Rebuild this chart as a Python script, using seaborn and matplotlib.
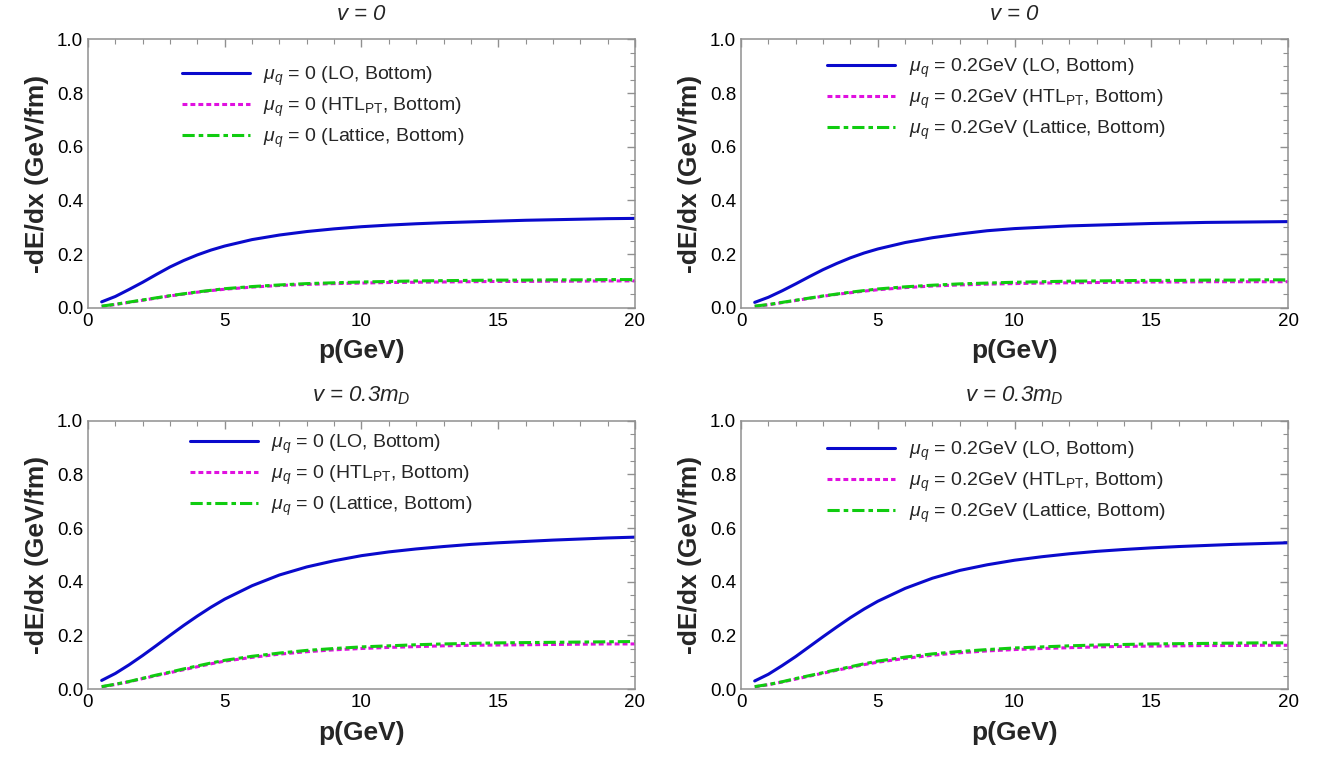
import numpy as np
import pandas as pd
import matplotlib
matplotlib.use("Agg")
import matplotlib.pyplot as plt
from matplotlib.ticker import MultipleLocator, FormatStrFormatter
import seaborn as sns

# momentum grid (GeV)
p = [0.5, 1, 1.5, 2, 2.5, 3, 3.5, 4, 4.5, 5, 6, 7, 8, 9, 10,
     11, 12, 13, 14, 15, 16, 17, 18, 19, 20]

# v = 0, mu_q = 0
lo_v0_mu0 = [0.022, 0.042, 0.068, 0.095, 0.124, 0.152, 0.176, 0.197, 0.215, 0.230,
             0.254, 0.271, 0.284, 0.294, 0.302, 0.308, 0.313, 0.317, 0.320, 0.323,
             0.326, 0.328, 0.330, 0.332, 0.333]
htl_v0_mu0 = [0.005, 0.012, 0.020, 0.028, 0.036, 0.044, 0.051, 0.058, 0.064, 0.069,
              0.077, 0.083, 0.087, 0.090, 0.092, 0.094, 0.095, 0.096, 0.097, 0.098,
              0.098, 0.099, 0.099, 0.100, 0.100]
lat_v0_mu0 = [0.006, 0.013, 0.021, 0.029, 0.037, 0.045, 0.052, 0.059, 0.065, 0.071,
              0.079, 0.085, 0.090, 0.093, 0.096, 0.098, 0.100, 0.101, 0.102, 0.103,
              0.103, 0.104, 0.104, 0.105, 0.105]

# v = 0, mu_q = 0.2 GeV
lo_v0_mu2 = [0.020, 0.039, 0.063, 0.089, 0.116, 0.142, 0.165, 0.186, 0.204, 0.219,
             0.243, 0.261, 0.275, 0.287, 0.295, 0.300, 0.305, 0.308, 0.311, 0.314,
             0.316, 0.318, 0.319, 0.320, 0.321]
htl_v0_mu2 = [0.005, 0.011, 0.019, 0.027, 0.035, 0.043, 0.050, 0.056, 0.062, 0.067,
              0.075, 0.081, 0.085, 0.088, 0.090, 0.092, 0.093, 0.094, 0.095, 0.096,
              0.096, 0.097, 0.097, 0.097, 0.097]
lat_v0_mu2 = [0.006, 0.012, 0.020, 0.028, 0.036, 0.044, 0.051, 0.058, 0.064, 0.070,
              0.078, 0.084, 0.089, 0.092, 0.095, 0.097, 0.099, 0.100, 0.101, 0.102,
              0.102, 0.103, 0.103, 0.104, 0.104]

# v = 0.3 m_D, mu_q = 0
lo_v3_mu0 = [0.032, 0.058, 0.090, 0.125, 0.162, 0.200, 0.237, 0.272, 0.305, 0.335,
             0.385, 0.425, 0.455, 0.478, 0.497, 0.511, 0.522, 0.531, 0.539, 0.545,
             0.550, 0.555, 0.559, 0.563, 0.566]
htl_v3_mu0 = [0.008, 0.017, 0.027, 0.039, 0.050, 0.061, 0.072, 0.083, 0.094, 0.104,
              0.118, 0.130, 0.139, 0.146, 0.151, 0.155, 0.158, 0.161, 0.163, 0.164,
              0.165, 0.166, 0.167, 0.168, 0.168]
lat_v3_mu0 = [0.009, 0.018, 0.028, 0.040, 0.052, 0.063, 0.075, 0.086, 0.097, 0.107,
              0.122, 0.134, 0.144, 0.151, 0.157, 0.161, 0.165, 0.168, 0.170, 0.172,
              0.173, 0.174, 0.175, 0.176, 0.177]

# v = 0.3 m_D, mu_q = 0.2 GeV
lo_v3_mu2 = [0.030, 0.055, 0.087, 0.121, 0.158, 0.195, 0.231, 0.266, 0.298, 0.327,
             0.375, 0.413, 0.442, 0.463, 0.480, 0.493, 0.504, 0.513, 0.520, 0.526,
             0.531, 0.535, 0.539, 0.542, 0.545]
htl_v3_mu2 = [0.008, 0.016, 0.026, 0.037, 0.048, 0.059, 0.070, 0.080, 0.091, 0.100,
              0.114, 0.126, 0.135, 0.142, 0.147, 0.151, 0.154, 0.157, 0.159, 0.160,
              0.161, 0.162, 0.162, 0.163, 0.163]
lat_v3_mu2 = [0.009, 0.017, 0.027, 0.039, 0.050, 0.061, 0.072, 0.083, 0.094, 0.104,
              0.119, 0.131, 0.140, 0.147, 0.153, 0.157, 0.161, 0.164, 0.166, 0.168,
              0.169, 0.170, 0.171, 0.172, 0.172]

titles = [r"$\mathit{v}$ = 0", r"$\mathit{v}$ = 0",
          r"$\mathit{v}$ = 0.3$\mathit{m}_{\mathit{D}}$", r"$\mathit{v}$ = 0.3$\mathit{m}_{\mathit{D}}$"]
mu_labels = ["0", "0.2GeV", "0", "0.2GeV"]
panels = [(lo_v0_mu0, htl_v0_mu0, lat_v0_mu0),
          (lo_v0_mu2, htl_v0_mu2, lat_v0_mu2),
          (lo_v3_mu0, htl_v3_mu0, lat_v3_mu0),
          (lo_v3_mu2, htl_v3_mu2, lat_v3_mu2)]
# legend anchor (axes fraction) per panel
legend_anchor = [(0.43, 0.97), (0.467, 1.0), (0.445, 1.02), (0.467, 0.995)]

sns.set_theme(style="white")
plt.rcParams['font.family'] = ['Liberation Sans', 'DejaVu Sans']
plt.rcParams['mathtext.fontset'] = 'custom'
plt.rcParams['mathtext.rm'] = 'Liberation Sans'
plt.rcParams['mathtext.it'] = 'Liberation Sans:italic'
plt.rcParams['mathtext.bf'] = 'Liberation Sans:bold'

fig = plt.figure(figsize=(13.19, 7.58), dpi=100)
lefts = [0.0667, 0.5618]
bottoms = [0.594, 0.091]
w, h = 0.4147, 0.354

blue, magenta, green = "#0a0acc", "#e010e0", "#10cc10"
gray = "#909090"

for i, (lo, htl, lat) in enumerate(panels):
    ax = fig.add_axes([lefts[i % 2], bottoms[i // 2], w, h])
    mu = mu_labels[i]
    sns.lineplot(x=p, y=lo, ax=ax, color=blue, lw=2.2,
                 label=r"$\mu_q$ = %s (LO, Bottom)" % mu)
    sns.lineplot(x=p, y=htl, ax=ax, color=magenta, lw=2.2,
                 linestyle=(0, (1.6, 1.0)),
                 label=r"$\mu_q$ = %s (HTL$_{\mathrm{PT}}$, Bottom)" % mu)
    sns.lineplot(x=p, y=lat, ax=ax, color=green, lw=2.2,
                 linestyle=(0, (4.0, 1.3, 1.5, 1.3)),
                 label=r"$\mu_q$ = %s (Lattice, Bottom)" % mu)

    ax.set_xlim(0, 20)
    ax.set_ylim(0, 1.0)
    ax.xaxis.set_major_locator(MultipleLocator(5))
    ax.xaxis.set_minor_locator(MultipleLocator(1))
    ax.yaxis.set_major_locator(MultipleLocator(0.2))
    ax.yaxis.set_minor_locator(MultipleLocator(0.05))
    ax.yaxis.set_major_formatter(FormatStrFormatter('%.1f'))
    ax.tick_params(which='both', direction='in', top=True, right=True,
                   color=gray, labelsize=13.5, labelcolor='black')
    ax.tick_params(which='major', length=6, width=1)
    ax.tick_params(which='minor', length=3.5, width=0.8)
    for s in ax.spines.values():
        s.set_color(gray)
        s.set_linewidth(1.1)

    ax.set_xlabel("p(GeV)", fontsize=19, fontweight='bold', labelpad=7)
    ax.set_ylabel("-dE/dx (GeV/fm)", fontsize=19, fontweight='bold', labelpad=6)
    ax.set_title(titles[i], fontsize=16, style='italic', pad=14)

    ax.legend(loc='upper center', bbox_to_anchor=legend_anchor[i], frameon=False,
              fontsize=14, handlelength=3.5, handletextpad=0.7,
              labelspacing=0.4)

fig.savefig("out.png", dpi=100)
